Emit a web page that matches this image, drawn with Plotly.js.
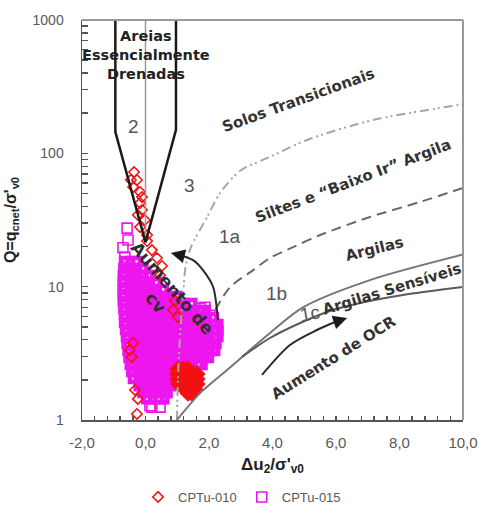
<!DOCTYPE html>
<html><head><meta charset="utf-8">
<script src="https://cdn.plot.ly/plotly-3.0.1.min.js"></script>
<style>html,body{margin:0;padding:0;background:#fff}#chart{width:478px;height:520px}</style>
</head><body><div id="chart"></div>
<script>
// ---------- axis ticks ----------
const xTickVals = [-2, 0, 2, 4, 6, 8, 10];
const xTickText = ['-2,0', '0,0', '2,0', '4,0', '6,0', '8,0', '10,0'];
const yTickVals = [1, 10, 100, 1000];
const yTickText = ['1', '10', '100', '1000'];
const yMinorTicks = [2,3,4,5,6,7,8,9,20,30,40,50,60,70,80,90,200,300,400,500,600,700,800,900];

// ---------- series: [Δu2/σ'v0, Q] ----------
const cptu010 = [
  [-0.36,72.4],[-0.46,63.1],[-0.27,63.1],[-0.39,55.9],[-0.17,51.3],[-0.11,47.0],
  [-0.17,42.4],[-0.11,37.6],[-0.24,34.5],[-0.02,31.6],[-0.17,28.0],[0.05,24.4],
  [0.05,22.0],[0.2,18.8],[0.36,16.4],[0.52,14.3],[0.46,12.2],[0.93,7.9],[0.87,6.7],
  [1.02,5.9],[-0.39,3.78],[-0.49,3.35],[-0.43,2.97],[-0.33,1.68],[-0.24,1.44],[-0.27,1.11]
];
const cptu010Dense = [
  [1.02,2.41],[1.18,2.41],[1.34,2.41],
  [1.02,2.21],[1.18,2.21],[1.34,2.21],[1.50,2.21],[1.62,2.21],
  [1.02,2.03],[1.18,2.03],[1.34,2.03],[1.50,2.03],[1.62,2.03],
  [1.05,1.86],[1.21,1.86],[1.37,1.86],[1.53,1.86],[1.62,1.86],
  [1.24,1.71],[1.40,1.71],[1.55,1.71],
  [1.34,1.59],[1.46,1.59]
];
const cptu015 = [
  [-0.58,27.5],[-0.55,22.4],[-0.71,19.6],[-0.65,16.7],[-0.58,15.1],[1.72,6.9],
  [2.03,6.1],[1.87,7.0],[-0.17,1.83],[0.14,1.49],[0.46,1.25],[0.2,1.25],[0.14,1.28],[1.46,0.98]
];
const cptu015Dense = [
  [-0.58,14.8],[-0.36,14.8],
  [-0.6,13.1],[-0.38,13.1],[-0.16,13.1],
  [-0.62,11.6],[-0.4,11.6],[-0.18,11.6],[0.02,11.6],
  [-0.62,10.3],[-0.4,10.3],[-0.18,10.3],[0.04,10.3],[0.26,10.3],
  [-0.62,9.12],[-0.4,9.12],[-0.18,9.12],[0.04,9.12],[0.26,9.12],[0.48,9.12],
  [-0.62,8.08],[-0.4,8.08],[-0.18,8.08],[0.04,8.08],[0.26,8.08],[0.48,8.08],[0.7,8.08],[0.92,8.08],
  [-0.6,7.16],[-0.38,7.16],[-0.16,7.16],[0.06,7.16],[0.28,7.16],[0.5,7.16],[0.72,7.16],[0.94,7.16],[1.16,7.16],[1.38,7.16],
  [-0.58,6.35],[-0.36,6.35],[-0.14,6.35],[0.08,6.35],[0.3,6.35],[0.52,6.35],[0.74,6.35],[0.96,6.35],[1.18,6.35],[1.4,6.35],[1.62,6.35],[1.8,6.35],
  [-0.58,5.62],[-0.36,5.62],[-0.14,5.62],[0.08,5.62],[0.3,5.62],[0.52,5.62],[0.74,5.62],[0.96,5.62],[1.18,5.62],[1.4,5.62],[1.62,5.62],[1.84,5.62],[2.06,5.62],
  [-0.55,4.98],[-0.33,4.98],[-0.11,4.98],[0.11,4.98],[0.33,4.98],[0.55,4.98],[0.77,4.98],[0.99,4.98],[1.21,4.98],[1.43,4.98],[1.65,4.98],[1.87,4.98],[2.09,4.98],[2.2,4.98],
  [-0.52,4.42],[-0.3,4.42],[-0.08,4.42],[0.14,4.42],[0.36,4.42],[0.58,4.42],[0.8,4.42],[1.02,4.42],[1.24,4.42],[1.46,4.42],[1.68,4.42],[1.9,4.42],[2.12,4.42],[2.2,4.42],
  [-0.5,3.91],[-0.28,3.91],[-0.06,3.91],[0.16,3.91],[0.38,3.91],[0.6,3.91],[0.82,3.91],[1.04,3.91],[1.26,3.91],[1.48,3.91],[1.7,3.91],[1.92,3.91],[2.14,3.91],
  [-0.47,3.47],[-0.25,3.47],[-0.03,3.47],[0.19,3.47],[0.41,3.47],[0.63,3.47],[0.85,3.47],[1.07,3.47],[1.29,3.47],[1.51,3.47],[1.73,3.47],[1.95,3.47],[2.1,3.47],
  [-0.44,3.07],[-0.22,3.07],[0,3.07],[0.22,3.07],[0.44,3.07],[0.66,3.07],[0.88,3.07],[1.1,3.07],[1.32,3.07],[1.54,3.07],[1.76,3.07],[1.9,3.07],
  [-0.4,2.72],[-0.18,2.72],[0.04,2.72],[0.26,2.72],[0.48,2.72],[0.7,2.72],[0.92,2.72],[1.14,2.72],[1.36,2.72],[1.58,2.72],[1.7,2.72],
  [-0.35,2.41],[-0.13,2.41],[0.09,2.41],[0.31,2.41],[0.53,2.41],[0.75,2.41],[0.97,2.41],[1.19,2.41],[1.4,2.41],
  [-0.3,2.14],[-0.08,2.14],[0.14,2.14],[0.36,2.14],[0.58,2.14],[0.8,2.14],
  [-0.12,1.89],[0.1,1.89],[0.32,1.89],[0.54,1.89],[0.7,1.89],
  [0,1.68],[0.22,1.68],[0.44,1.68],[0.6,1.68],
  [0.12,1.51],[0.34,1.51],[0.5,1.51]
];

// ---------- zone boundaries ----------
const zone2LeftX = [-0.95, -0.95, 0];      const zone2LeftQ = [1000, 145, 21.5];
const zone2RightX = [0.96, 0.96, 0];       const zone2RightQ = [1000, 150, 21.5];
const zeroLineX = [0, 0];                  const zeroLineQ = [21.5, 1000];
const bound3X = [0.99, 1.02, 1.08, 1.18, 1.26, 1.42, 1.94, 2.35, 2.98, 3.92, 5.09, 7.17, 10.0];
const bound3Q = [1.0, 2.0, 4.0, 8.4, 14.0, 19.5, 33.3, 50.4, 74, 94, 126, 178, 233];
const bound1abX = [2.2, 2.66, 3.39, 3.92, 4.65, 5.50, 7.07, 8.65, 10.0];
const bound1abQ = [6.7, 9.9, 13.3, 16.4, 19.8, 24.4, 33.3, 43.2, 55];
const bound1bcX = [0.99, 1.72, 2.57, 3.04, 3.92, 4.96, 7.07, 10.0];
const bound1bcQ = [1.0, 1.59, 2.37, 2.97, 4.5, 7.0, 11.2, 17.4];
const bound1cX = [3.04, 3.92, 4.87, 5.81, 6.76, 8.11, 10.0];
const bound1cQ = [2.97, 4.12, 5.34, 6.57, 7.54, 8.66, 9.94];
const arrowCvX = [2.28, 2.13, 1.81, 1.50, 1.18];  const arrowCvQ = [5.62, 9.94, 13.3, 15.8, 17.0];
const arrowCvTip = [0.80, 17.9];
const arrowOcrX = [3.67, 4.55, 5.40, 5.97];       const arrowOcrQ = [2.18, 3.65, 4.73, 5.43];
const arrowOcrTip = [6.35, 5.82];

const MAG = '#ee16ee', RED = '#f21212';
const fontBold = 'DejaVu Sans, Verdana, sans-serif';
const fontNum = 'Liberation Sans, Arial, sans-serif';
const xs = a => a.map(p => p[0]);
const qs = a => a.map(p => p[1]);

function line(x, y, color, width, dash, shape) {
  return {x, y, type:'scatter', mode:'lines', showlegend:false, hoverinfo:'skip',
    line:{color, width, dash: dash || 'solid', shape: shape || 'spline', smoothing: 0.8}};
}

const traces = [
  {x: xs(cptu015Dense), y: qs(cptu015Dense), type:'scatter', mode:'markers', name:'CPTu-015',
   legendgroup:'015', showlegend:false, cliponaxis:false,
   marker:{symbol:'square-open', size:12, color:MAG, line:{width:4.6, color:MAG}}},
  {x: xs(cptu015), y: qs(cptu015), type:'scatter', mode:'markers', name:'CPTu-015',
   legendgroup:'015', legendrank:2, cliponaxis:false,
   marker:{symbol:'square-open', size:10, color:MAG, line:{width:1.6, color:MAG}}},
  {x: xs(cptu010Dense), y: qs(cptu010Dense), type:'scatter', mode:'markers', name:'CPTu-010',
   legendgroup:'010', showlegend:false, cliponaxis:false,
   marker:{symbol:'diamond-open', size:9, color:RED, line:{width:4, color:RED}}},
  {x: xs(cptu010), y: qs(cptu010), type:'scatter', mode:'markers', name:'CPTu-010',
   legendgroup:'010', legendrank:1, cliponaxis:false,
   marker:{symbol:'diamond-open', size:8, color:RED, line:{width:1.6, color:RED}}},
  line(zeroLineX, zeroLineQ, '#9a9a9a', 1.5, 'solid', 'linear'),
  line(zone2LeftX, zone2LeftQ, '#1a1a1a', 2.5, 'solid', 'linear'),
  line(zone2RightX, zone2RightQ, '#1a1a1a', 2.5, 'solid', 'linear'),
  line(bound3X, bound3Q, '#a6a6a6', 2, '9px,4px,2px,3px,2px,4px'),
  line(bound1abX, bound1abQ, '#6a6a6a', 2, '10px,6px'),
  line(bound1bcX, bound1bcQ, '#767676', 2),
  line(bound1cX, bound1cQ, '#5a5a5a', 2),
  line(arrowCvX, arrowCvQ, '#2a2a2a', 2),
  line(arrowOcrX, arrowOcrQ, '#2a2a2a', 2)
];

function lab(text, x, q, size, angle, color, family) {
  return {text, x, y: Math.log10(q), xref:'x', yref:'y', showarrow:false,
    textangle: angle || 0, xanchor:'center', yanchor:'middle',
    font:{family: family || fontBold, size, color}};
}
function arrow(from, tip) {
  return {text:'', x: tip[0], y: Math.log10(tip[1]), ax: from[0], ay: Math.log10(from[1]),
    xref:'x', yref:'y', axref:'x', ayref:'y', showarrow:true, arrowhead:2,
    arrowsize:1.4, arrowwidth:2, arrowcolor:'#1a1a1a', standoff:0, startstandoff:0};
}

const annotations = [
  arrow([arrowCvX[4], arrowCvQ[4]], arrowCvTip),
  arrow([arrowOcrX[3], arrowOcrQ[3]], arrowOcrTip),
  lab('<b>Areias</b><br><b>Essencialmente</b><br><b>Drenadas</b>', 0.0, 546, 14.5, 0, '#222'),
  lab('2', -0.39, 157.6, 19, 0, '#555', fontNum),
  lab('3', 1.37, 56.9, 19, 0, '#555', fontNum),
  lab('1a', 2.66, 23.6, 19, 0, '#555', fontNum),
  lab('1b', 4.14, 8.96, 19, 0, '#555', fontNum),
  lab('1c', 5.18, 6.24, 19, -10, '#555', fontNum),
  lab('<b>Solos Transicionais</b>', 4.83, 251, 15, -20, '#333'),
  lab('<b>Siltes e “Baixo Ir” Argila</b>', 6.54, 62, 15, -21, '#333'),
  lab('<b>Argilas</b>', 7.20, 19.2, 15, -14, '#333'),
  lab('<b>Argilas Sensíveis</b>', 7.76, 9.6, 15, -17, '#333'),
  lab('<b>Aumento de OCR</b>', 5.91, 2.92, 15, -32, '#333'),
  lab('<b>Aumento de</b><br><b>cv</b>', 0.57, 8.63, 17, 49, '#2e2e2e')
];

const axisCommon = {showline:true, linecolor:'#555', linewidth:1.5, showgrid:false, zeroline:false,
  ticks:'inside', tickcolor:'#555', tickwidth:1.5, automargin:false};

const layout = {
  width:478, height:520,
  margin:{l:82, r:15, t:20, b:100, autoexpand:false},
  paper_bgcolor:'#fff', plot_bgcolor:'#fff',
  hovermode:false,
  showlegend:true,
  legend:{orientation:'h', x:0.42, xanchor:'center', y:-0.1925, yanchor:'middle',
    font:{family:fontNum, size:13, color:'#595959'}, itemwidth:30, bgcolor:'rgba(0,0,0,0)'},
  xaxis: Object.assign({}, axisCommon, {
    range:[-2, 10], tickvals:xTickVals, ticktext:xTickText, ticklen:4,
    tickfont:{family:fontNum, size:15, color:'#595959'}, ticklabelstandoff:8,
    minor:{tick0:-2, dtick:0.4, ticks:'inside', ticklen:4, tickwidth:1.5, tickcolor:'#555', showgrid:false},
    title:{text:'<b>Δu<sub>2</sub>/σ\'<sub>v0</sub></b>', font:{family:fontNum, size:17, color:'#222'}, standoff:8}
  }),
  yaxis: Object.assign({}, axisCommon, {
    type:'log', range:[0, 3], tickvals:yTickVals, ticktext:yTickText, ticklen:6,
    tickfont:{family:fontNum, size:14, color:'#595959'}, ticklabelstandoff:14,
    minor:{tickvals:yMinorTicks, ticks:'inside', ticklen:6, tickwidth:1.5, tickcolor:'#555', showgrid:false},
    title:{text:'<b>Q=q<sub>cnet</sub>/σ\'<sub>v0</sub></b>', font:{family:fontNum, size:16, color:'#222'}, standoff:12}
  }),
  shapes:[
    {type:'line', xref:'paper', yref:'paper', x0:0, x1:1, y0:1, y1:1, line:{color:'#9a9a9a', width:2}},
    {type:'line', xref:'paper', yref:'paper', x0:1, x1:1, y0:0, y1:1, line:{color:'#9a9a9a', width:2}}
  ],
  annotations
};

Plotly.newPlot('chart', traces, layout, {displayModeBar:false, staticPlot:true});
</script>
</body></html>
